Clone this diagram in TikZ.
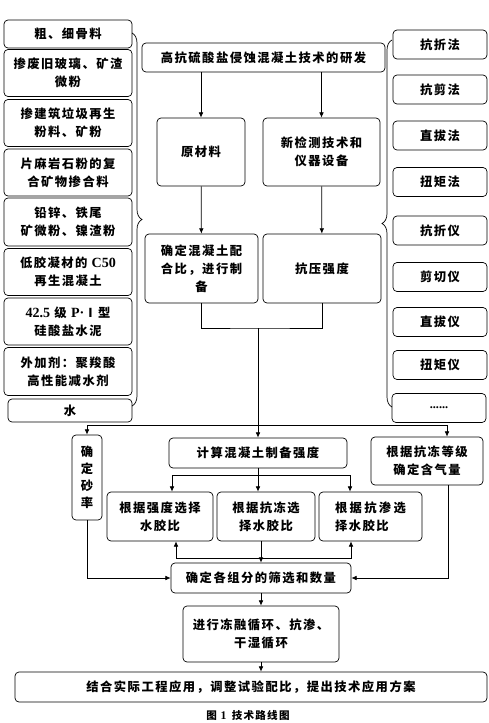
\documentclass[tikz,border=0pt]{standalone}
\usepackage{fontspec}
\setmainfont{Noto Sans CJK SC}[LetterSpace=12]
\newfontfamily\lat{Liberation Serif}
\usetikzlibrary{arrows.meta, positioning, decorations.pathreplacing}

\begin{document}
\begin{tikzpicture}[x=0.03cm, y=-0.03cm,
    box/.style={rectangle, rounded corners=0.12cm, draw=black, line width=0.6pt,
                inner sep=0pt, align=center, font=\fontsize{10.5}{15.5}\selectfont\bfseries},
    sz/.style 2 args={minimum width=#1*0.03cm, minimum height=#2*0.03cm},
    arr/.style={-{Latex[length=1.6mm,width=1.4mm]}, line width=0.6pt},
    ln/.style={line width=0.6pt},
    brc/.style={decorate, decoration={brace, amplitude=0.3cm}, line width=0.6pt}
  ]
    \useasboundingbox (0,0) rectangle (489,723);

    \node[box, sz={128}{28}] (gl) at (68,34) {粗、细骨料};
    \node[box, sz={128}{47}] (bl) at (68,73) {掺废旧玻璃、矿渣\\微粉};
    \node[box, sz={128}{47}] (jz) at (68,123) {掺建筑垃圾再生\\粉料、矿粉};
    \node[box, sz={128}{47}] (pm) at (68,172.5) {片麻岩石粉的复\\合矿物掺合料};
    \node[box, sz={128}{48}] (qx) at (68,222) {铅锌、铁尾\\矿微粉、镍渣粉};
    \node[box, sz={128}{47}] (dj) at (68,272) {低胶凝材的 {\lat\fontsize{12}{15}\selectfont C50}\\再生混凝土};
    \node[box, sz={128}{47}] (sn) at (68,321.5) {{\lat\fontsize{12}{15}\selectfont 42.5} 级 {\lat\fontsize{12}{15}\selectfont P·}Ⅰ型\\硅酸盐水泥};
    \node[box, sz={128}{48}] (wj) at (68,371.5) {外加剂：聚羧酸\\高性能减水剂};
    \node[box, sz={124}{23}] (sh) at (70,410.5) {水};
    \draw[brc] (132,33) -- (132,406);

    \node[box, sz={94}{29}] (kzf) at (440,44.5) {抗折法};
    \node[box, sz={94}{29}] (kjf) at (440,89.5) {抗剪法};
    \node[box, sz={94}{29}] (zbf) at (440,135.5) {直拔法};
    \node[box, sz={94}{29}] (njf) at (440,182) {扭矩法};
    \node[box, sz={94}{29}] (kzy) at (440,230.5) {抗折仪};
    \node[box, sz={94}{29}] (jqy) at (440,277) {剪切仪};
    \node[box, sz={94}{29}] (zby) at (440,322) {直拔仪};
    \node[box, sz={94}{29}] (njy) at (440,365) {扭矩仪};
    \node[box, sz={94}{29}] (qt) at (439,408) {\lat ......};
    \draw[brc] (392,407) -- (392,40);

    \node[box, sz={243}{29}] (yf) at (263.5,57.5) {高抗硫酸盐侵蚀混凝土技术的研发};
    \node[box, sz={88}{68}] (ycl) at (201,152) {原材料};
    \node[box, sz={117}{68}] (jc) at (321.5,152) {新检测技术和\\仪器设备};
    \node[box, sz={113}{69}] (pb) at (201.5,268.5) {确定混凝土配\\合比，进行制\\备};
    \node[box, sz={118}{69}] (ky) at (322,268.5) {抗压强度};

    \draw[arr] (yf.south -| ycl) -- (ycl);
    \draw[arr] (yf.south -| jc) -- (jc);
    \draw[arr] (ycl) -- (pb);
    \draw[arr] (jc) -- (ky);

    \node[box, sz={30}{85}, font=\fontsize{10.5}{14.5}\selectfont\bfseries] (sl) at (87,477.5) {确\\定\\砂\\率};
    \node[box, sz={178}{30}] (js) at (258,453) {计算混凝土制备强度};
    \node[box, sz={112}{48}] (hq) at (427,461) {根据抗冻等级\\确定含气量};
    \node[box, sz={106}{49}] (qd) at (160,516.5) {根据强度选择\\水胶比};
    \node[box, sz={98}{49}] (kd) at (266,516.5) {根据抗冻选\\择水胶比};
    \node[box, sz={103}{49}, align=left] (ks) at (370.5,516.5) {根\hspace{2pt}据\hspace{2pt}抗\hspace{2pt}渗\hspace{2pt}选\\择水胶比};

    \coordinate (hb) at (258,328);
    \coordinate (hs) at (258,425);
    \draw[ln] (pb.south) |- (hb) -| (ky.south);
    \draw[arr] (hb) -- (js.north);
    \draw[arr] (hs) -| (sl.north);
    \draw[arr] (hs) -| ([xshift=0.6cm]hq.north);

    \coordinate (fj) at (258,475);
    \draw[ln] (js.south) -- (fj);
    \draw[arr] (fj) -| ([xshift=0.36cm]qd.north);
    \draw[arr] (fj) -- (fj |- kd.north);
    \draw[arr] (fj) -| ([xshift=-0.615cm]ks.north);

    \node[box, sz={180}{30}] (zh) at (261,578) {确定各组分的筛选和数量};
    \coordinate (fh) at (261,558);
    \draw[arr] (kd.south -| zh) -- (zh);
    \draw[arr] (fh) -| ([xshift=0.48cm]qd.south);
    \draw[arr] (fh) -| ([xshift=-0.585cm]ks.south);
    \draw[arr] (sl.south) |- (zh.west);
    \draw[arr] ([xshift=0.63cm]hq.south) |- (zh.east);

    \node[box, sz={156}{56}] (dr) at (261,634) {进行冻融循环、抗渗、\\干湿循环};
    \node[box, sz={472}{30}] (jh) at (251,687) {结合实际工程应用，调整试验配比，提出技术应用方案};
    \draw[arr] (zh) -- (dr);
    \draw[arr] (dr) -- (dr |- jh.north);

    \node[font=\fontsize{9}{10}\selectfont\bfseries] (tt) at (248,715) {图 {\lat\fontsize{10}{10}\selectfont 1}\enspace 技术路线图};
  \end{tikzpicture}
\end{document}
